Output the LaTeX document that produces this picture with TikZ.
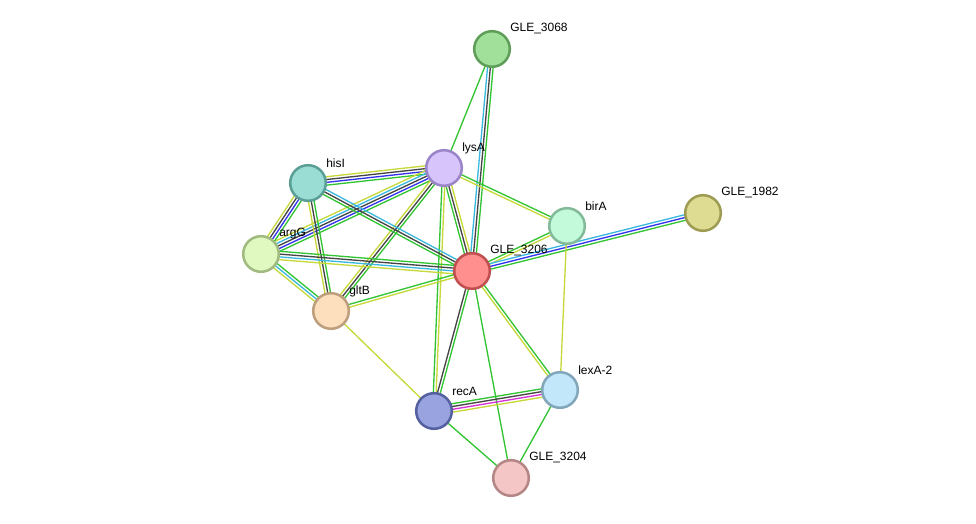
\documentclass[tikz,border=0pt]{standalone}
\usepackage{fontspec}
\setmainfont{Liberation Sans}
\usetikzlibrary{calc}
\definecolor{strGreen}{HTML}{33C433}
\definecolor{strText}{HTML}{C6D83A}
\definecolor{strCoexp}{HTML}{454545}
\definecolor{strDb}{HTML}{3BB8E0}
\definecolor{strBlue}{HTML}{3333EE}
\definecolor{strExp}{HTML}{D633D6}
% protein fills / rims
\definecolor{gleA}{HTML}{A0E09A}\definecolor{gleAr}{HTML}{5E9E58}
\definecolor{lysF}{HTML}{D6C4FB}\definecolor{lysR}{HTML}{9A85C8}
\definecolor{hisF}{HTML}{99DDD5}\definecolor{hisR}{HTML}{5A9E96}
\definecolor{argF}{HTML}{E0F9C0}\definecolor{argR}{HTML}{A0BA80}
\definecolor{gltF}{HTML}{FDDEBD}\definecolor{gltR}{HTML}{BD9E7D}
\definecolor{gleB}{HTML}{FF8F8F}\definecolor{gleBr}{HTML}{C04F4F}
\definecolor{birF}{HTML}{C2FADA}\definecolor{birR}{HTML}{82BA9A}
\definecolor{gleC}{HTML}{DEDC93}\definecolor{gleCr}{HTML}{9E9C53}
\definecolor{lexF}{HTML}{C2E6FA}\definecolor{lexR}{HTML}{82A6BA}
\definecolor{recF}{HTML}{98A3E0}\definecolor{recR}{HTML}{5560A0}
\definecolor{gleD}{HTML}{F5C6C6}\definecolor{gleDr}{HTML}{B58686}

\tikzset{
  prot/.style={circle, line width=1.9pt, minimum size=26.7pt, inner sep=0pt},
  protlabel/.style={anchor=west, inner sep=0pt, font=\fontsize{9}{10}\selectfont},
}

\begin{document}
\begin{tikzpicture}[x=0.75pt, y=-0.75pt]
  \useasboundingbox (0,0) rectangle (976,524);
  % one line per evidence channel, spread side by side
  \newcommand{\stredge}[4]{%
    \foreach \col [count=\i] in {#4} {
      \pgfmathsetmacro{\off}{(\i-(#3+1)/2)*2.1}
      \draw[\col, line width=1pt] ($(#1.center)!\off pt!90:(#2.center)$) -- ($(#2.center)!\off pt!-90:(#1.center)$);
    }}
  % Node centres
  \coordinate (g3068) at (492,49);
  \coordinate (lysA) at (444,168);
  \coordinate (hisI) at (308,183);
  \coordinate (argG) at (261,254);
  \coordinate (gltB) at (331,311);
  \coordinate (g3206) at (472,271);
  \coordinate (birA) at (567,226);
  \coordinate (g1982) at (703,213);
  \coordinate (lexA) at (560,390);
  \coordinate (recA) at (434,411);
  \coordinate (g3204) at (511,478);
  % Edges
  \stredge{g3068}{lysA}{1}{strGreen}
  \stredge{g3068}{g3206}{3}{strDb,strCoexp,strGreen}
  \stredge{lysA}{hisI}{4}{strText,strCoexp,strBlue,strGreen}
  \stredge{lysA}{argG}{5}{strText,strDb,strCoexp,strBlue,strGreen}
  \stredge{lysA}{gltB}{3}{strText,strCoexp,strGreen}
  \stredge{lysA}{g3206}{3}{strGreen,strCoexp,strText}
  \stredge{lysA}{birA}{2}{strText,strGreen}
  \stredge{lysA}{recA}{2}{strGreen,strText}
  \stredge{hisI}{argG}{4}{strText,strCoexp,strBlue,strGreen}
  \stredge{hisI}{gltB}{3}{strText,strCoexp,strGreen}
  \stredge{hisI}{g3206}{3}{strGreen,strCoexp,strDb}
  \stredge{argG}{g3206}{4}{strText,strDb,strCoexp,strGreen}
  \stredge{argG}{gltB}{3}{strText,strDb,strGreen}
  \stredge{gltB}{g3206}{2}{strText,strGreen}
  \stredge{gltB}{recA}{1}{strText}
  \stredge{g3206}{birA}{2}{strText,strGreen}
  \stredge{g3206}{g1982}{3}{strGreen,strBlue,strDb}
  \stredge{g3206}{recA}{2}{strCoexp,strGreen}
  \stredge{g3206}{lexA}{2}{strText,strGreen}
  \stredge{g3206}{g3204}{1}{strGreen}
  \stredge{birA}{lexA}{1}{strText}
  \stredge{recA}{lexA}{4}{strText,strExp,strCoexp,strGreen}
  \stredge{recA}{g3204}{1}{strGreen}
  \stredge{lexA}{g3204}{1}{strGreen}
  % Proteins
  \node[prot, draw=gleAr, fill=gleA] (n3068) at (g3068) {};
  \node[prot, draw=lysR, fill=lysF] (nlysA) at (lysA) {};
  \node[prot, draw=hisR, fill=hisF] (nhisI) at (hisI) {};
  \node[prot, draw=argR, fill=argF] (nargG) at (argG) {};
  \node[prot, draw=gltR, fill=gltF] (ngltB) at (gltB) {};
  \node[prot, draw=gleBr, fill=gleB] (n3206) at (g3206) {};
  \node[prot, draw=birR, fill=birF] (nbirA) at (birA) {};
  \node[prot, draw=gleCr, fill=gleC] (n1982) at (g1982) {};
  \node[prot, draw=lexR, fill=lexF] (nlexA) at (lexA) {};
  \node[prot, draw=recR, fill=recF] (nrecA) at (recA) {};
  \node[prot, draw=gleDr, fill=gleD] (n3204) at (g3204) {};
  % Labels
  \node[protlabel] (l3068) at ($(g3068)+(18,-20)$) {GLE\_3068};
  \node[protlabel] (llysA) at ($(lysA)+(18,-20)$) {lysA};
  \node[protlabel] (lhisI) at ($(hisI)+(18,-20)$) {hisI};
  \node[protlabel] (largG) at ($(argG)+(18,-20)$) {argG};
  \node[protlabel] (lgltB) at ($(gltB)+(18,-20)$) {gltB};
  \node[protlabel] (l3206) at ($(g3206)+(18,-20)$) {GLE\_3206};
  \node[protlabel] (lbirA) at ($(birA)+(18,-20)$) {birA};
  \node[protlabel] (l1982) at ($(g1982)+(18,-20)$) {GLE\_1982};
  \node[protlabel] (llexA) at ($(lexA)+(18,-20)$) {lexA-2};
  \node[protlabel] (lrecA) at ($(recA)+(18,-20)$) {recA};
  \node[protlabel] (l3204) at ($(g3204)+(18,-20)$) {GLE\_3204};
\end{tikzpicture}
\end{document}
